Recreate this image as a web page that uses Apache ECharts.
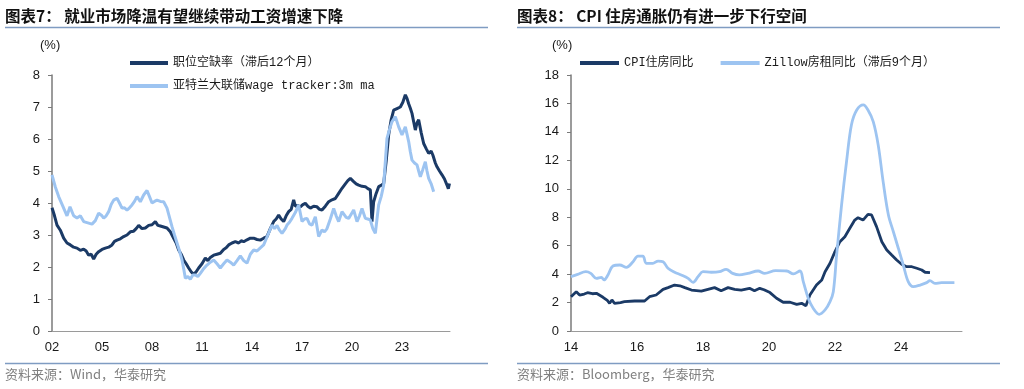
<!DOCTYPE html>
<html><head><meta charset="utf-8">
<script src="https://cdn.jsdelivr.net/npm/echarts@6/dist/echarts.min.js"></script>
<style>html,body{margin:0;padding:0;background:#fff}#c{width:1024px;height:389px}</style>
</head><body><div id="c"></div>
<script>
// ---- Left chart data ----
const jobX = [2002.0,2002.15,2002.3,2002.5,2002.7,2002.9,2003.1,2003.3,2003.5,2003.7,2003.9,2004.05,2004.2,2004.35,2004.5,2004.65,2004.8,2005.0,2005.2,2005.4,2005.6,2005.75,2005.9,2006.1,2006.3,2006.5,2006.7,2006.9,2007.05,2007.2,2007.4,2007.6,2007.8,2008.0,2008.2,2008.35,2008.5,2008.7,2008.9,2009.1,2009.3,2009.45,2009.6,2009.75,2009.9,2010.05,2010.2,2010.35,2010.5,2010.65,2010.8,2011.0,2011.2,2011.35,2011.5,2011.7,2011.9,2012.1,2012.3,2012.45,2012.6,2012.8,2013.0,2013.2,2013.35,2013.5,2013.7,2013.9,2014.1,2014.3,2014.5,2014.7,2014.9,2015.1,2015.3,2015.45,2015.6,2015.75,2015.9,2016.05,2016.2,2016.35,2016.5,2016.6,2016.75,2016.9,2017.05,2017.2,2017.35,2017.5,2017.7,2017.9,2018.05,2018.2,2018.4,2018.6,2018.8,2019.0,2019.2,2019.4,2019.6,2019.75,2019.9,2020.1,2020.25,2020.4,2020.6,2020.8,2020.95,2021.1,2021.2,2021.3,2021.45,2021.6,2021.75,2021.9,2022.05,2022.2,2022.35,2022.5,2022.7,2022.9,2023.05,2023.2,2023.3,2023.4,2023.5,2023.6,2023.7,2023.8,2023.9,2024.0,2024.15,2024.3,2024.45,2024.6,2024.75,2024.85,2025.0,2025.1,2025.25,2025.4,2025.55,2025.7,2025.78,2025.85];
const jobY = [3.85,3.6,3.31,3.15,2.9,2.75,2.69,2.62,2.59,2.52,2.56,2.5,2.37,2.4,2.25,2.4,2.48,2.55,2.59,2.62,2.69,2.8,2.84,2.88,2.95,3.0,3.1,3.12,3.2,3.3,3.2,3.22,3.3,3.32,3.42,3.3,3.28,3.25,3.22,3.1,2.9,2.75,2.53,2.4,2.22,2.1,1.97,1.85,1.78,1.85,1.97,2.1,2.28,2.2,2.3,2.37,2.4,2.43,2.55,2.6,2.69,2.75,2.79,2.75,2.82,2.79,2.85,2.9,2.9,2.86,2.84,2.9,2.95,3.2,3.42,3.5,3.62,3.5,3.42,3.6,3.73,3.8,4.1,3.9,3.92,3.88,3.95,3.99,3.9,3.84,3.9,3.88,3.8,3.78,3.9,4.04,4.1,4.14,4.3,4.46,4.6,4.7,4.77,4.67,4.6,4.56,4.52,4.51,4.45,4.41,3.42,4.04,4.3,4.51,4.55,4.61,5.3,6.13,6.6,6.9,6.95,7.0,7.15,7.38,7.27,7.1,6.96,6.8,6.54,6.28,6.5,6.6,6.2,5.86,5.7,5.55,5.62,5.5,5.25,5.13,5.0,4.88,4.75,4.56,4.45,4.61];
const wageX = [2002.0,2002.2,2002.4,2002.7,2002.9,2003.08,2003.3,2003.5,2003.7,2003.9,2004.15,2004.4,2004.6,2004.8,2005.0,2005.1,2005.25,2005.4,2005.55,2005.7,2005.9,2006.05,2006.2,2006.35,2006.5,2006.65,2006.8,2006.95,2007.1,2007.3,2007.5,2007.7,2007.85,2008.0,2008.15,2008.3,2008.5,2008.7,2008.9,2009.05,2009.2,2009.35,2009.5,2009.65,2009.8,2009.9,2010.0,2010.15,2010.3,2010.45,2010.6,2010.75,2010.9,2011.1,2011.3,2011.5,2011.7,2011.9,2012.1,2012.3,2012.5,2012.7,2012.9,2013.1,2013.3,2013.5,2013.7,2013.9,2014.1,2014.3,2014.5,2014.7,2014.95,2015.2,2015.35,2015.5,2015.65,2015.8,2016.0,2016.1,2016.25,2016.4,2016.6,2016.8,2017.0,2017.15,2017.3,2017.45,2017.6,2017.8,2018.0,2018.1,2018.2,2018.35,2018.5,2018.7,2018.9,2019.05,2019.2,2019.4,2019.5,2019.65,2019.8,2019.95,2020.1,2020.3,2020.45,2020.6,2020.8,2020.95,2021.1,2021.25,2021.4,2021.5,2021.6,2021.75,2021.9,2022.1,2022.25,2022.4,2022.6,2022.8,2023.0,2023.2,2023.3,2023.4,2023.5,2023.6,2023.75,2023.9,2024.0,2024.1,2024.25,2024.4,2024.5,2024.6,2024.75,2024.9];
const wageY = [4.88,4.5,4.2,3.84,3.6,3.88,3.6,3.53,3.6,3.42,3.38,3.34,3.45,3.68,3.6,3.53,3.6,3.73,3.95,4.09,4.15,4.0,3.84,3.85,3.78,3.85,3.94,4.05,4.2,4.04,4.25,4.39,4.2,4.0,4.05,4.09,4.05,4.04,3.84,3.55,3.26,3.0,2.75,2.5,2.22,1.95,1.65,1.7,1.62,1.75,1.75,1.7,1.8,1.95,2.06,2.15,2.22,2.1,1.97,2.1,2.22,2.15,2.06,2.2,2.35,2.2,2.12,2.4,2.53,2.5,2.6,2.69,3.0,3.31,3.2,3.3,3.15,3.05,3.2,3.31,3.4,3.52,3.7,3.94,3.42,3.5,3.52,3.35,3.31,3.57,2.95,3.0,3.16,3.1,3.2,3.5,3.83,3.6,3.42,3.73,3.73,3.55,3.52,3.65,3.78,3.42,3.6,3.83,3.52,3.5,3.47,3.2,3.05,3.5,3.94,4.2,4.56,6.02,6.3,6.54,6.7,6.38,6.13,6.38,6.15,5.92,5.6,5.34,5.25,5.19,5.0,4.82,5.05,5.29,5.0,4.77,4.6,4.35];
// ---- Right chart data ----
const cpiX = [2014.0,2014.16,2014.26,2014.4,2014.5,2014.65,2014.77,2014.97,2015.1,2015.17,2015.24,2015.32,2015.5,2015.62,2015.93,2016.23,2016.38,2016.58,2016.79,2016.94,2017.14,2017.3,2017.45,2017.65,2017.95,2018.15,2018.35,2018.55,2018.76,2018.96,2019.16,2019.41,2019.56,2019.72,2019.85,2020.03,2020.23,2020.43,2020.64,2020.84,2020.99,2021.12,2021.24,2021.44,2021.6,2021.7,2021.85,2022.0,2022.15,2022.3,2022.45,2022.6,2022.7,2022.85,2023.0,2023.11,2023.26,2023.42,2023.57,2023.72,2023.87,2024.02,2024.17,2024.33,2024.48,2024.63,2024.73,2024.88];
const cpiY = [2.41,2.76,2.53,2.6,2.69,2.62,2.65,2.37,2.15,1.95,2.18,1.95,2.0,2.06,2.11,2.11,2.41,2.53,2.93,3.05,3.23,3.18,3.05,2.88,2.81,2.93,3.05,2.83,3.05,2.93,2.88,3.0,2.83,3.0,2.9,2.7,2.3,2.02,2.02,1.87,1.95,1.78,2.53,3.23,3.59,4.17,4.76,5.58,6.28,6.63,7.22,7.8,7.97,7.8,8.2,8.16,7.34,6.28,5.7,5.34,4.99,4.69,4.52,4.52,4.41,4.29,4.13,4.1];
const zillowX = [2014.0,2014.2,2014.45,2014.6,2014.77,2014.92,2015.0,2015.12,2015.27,2015.48,2015.68,2015.88,2016.03,2016.18,2016.28,2016.48,2016.64,2016.79,2016.94,2017.14,2017.34,2017.55,2017.7,2017.85,2018.0,2018.25,2018.5,2018.7,2018.9,2019.1,2019.36,2019.67,2019.87,2020.2,2020.54,2020.74,2020.94,2021.04,2021.19,2021.34,2021.52,2021.7,2021.85,2021.95,2022.05,2022.2,2022.35,2022.5,2022.66,2022.86,2023.0,2023.16,2023.31,2023.46,2023.62,2023.77,2023.92,2024.07,2024.22,2024.37,2024.58,2024.78,2024.88,2025.03,2025.23,2025.43,2025.62];
const zillowY = [3.82,3.98,4.17,4.05,3.7,3.77,3.59,3.94,4.57,4.64,4.48,4.87,5.27,5.27,4.76,4.76,4.92,4.87,4.41,4.13,3.94,3.7,3.42,3.82,4.17,4.13,4.17,4.34,4.05,3.94,4.05,4.22,4.05,4.24,4.22,4.01,4.22,3.47,2.3,1.6,1.17,1.48,2.06,2.76,5.34,8.86,11.9,14.5,15.54,15.9,15.54,14.72,13.08,10.5,8.16,6.98,5.82,4.64,3.47,3.12,3.23,3.4,3.54,3.35,3.4,3.4,3.4];
const leftYTicks = {min:0, max:8, interval:1};
const rightYTicks = {min:0, max:18, interval:2};
const leftXTicks = {min:2002, max:2025.88, interval:3};
const rightXTicks = {min:2014, max:2025.85, interval:2};
const names = ['职位空缺率（滞后12个月）','亚特兰大联储wage tracker:3m ma','CPI住房同比','Zillow房租同比（滞后9个月）'];

const DARK = '#1b3a66', LIGHT = '#9dc4f1';
const pair = (xs, ys) => xs.map((x, i) => [x, ys[i]]);
const axisFont = {fontFamily:'Liberation Sans, Arial, sans-serif', fontSize:13, color:'#1a1a1a'};
const yrFmt = v => (Math.abs(v - Math.round(v)) < 1e-6) ? String(Math.round(v) % 100).padStart(2,'0') : '';

function xAxis(gi, t){
  return {type:'value', gridIndex:gi, min:t.min, max:t.max, interval:t.interval,
    axisLine:{show:true, lineStyle:{color:'#9a9a9a', width:1}}, axisTick:{show:false},
    splitLine:{show:false}, axisLabel:Object.assign({margin:10, formatter:yrFmt, showMaxLabel:false}, axisFont)};
}
function yAxis(gi, t){
  return {type:'value', gridIndex:gi, min:t.min, max:t.max, interval:t.interval,
    axisLine:{show:true, lineStyle:{color:'#7a7a7a', width:1.5}},
    axisTick:{show:true, length:4, lineStyle:{color:'#7a7a7a'}},
    splitLine:{show:false}, axisLabel:Object.assign({margin:12}, axisFont)};
}
const legendText = {fontFamily:'Liberation Mono, Noto Sans CJK SC, monospace', fontSize:12, color:'#1a1a1a'};
function line(name, gi, data, color, w, smooth){
  return {name, type:'line', xAxisIndex:gi, yAxisIndex:gi, data, showSymbol:false, symbol:'none',
    smooth: smooth || false, lineStyle:{color, width:w}, itemStyle:{color}, animation:false};
}
const titleStyle = {fontFamily:'Noto Sans CJK SC, sans-serif', fontSize:15.5, fontWeight:'bold', fill:'#111'};
const srcStyle = {fontFamily:'Noto Sans CJK SC, Liberation Sans, sans-serif', fontSize:13, fill:'#808080'};
const pctStyle = {fontFamily:'Liberation Sans, Arial, sans-serif', fontSize:13, fill:'#1a1a1a'};
const ruleColor = '#7f9cc2';

const option = {
  animation:false,
  grid:[{left:52, top:75, width:398, height:256},{left:571, top:75, width:391, height:256}],
  xAxis:[xAxis(0,leftXTicks), xAxis(1,rightXTicks)],
  yAxis:[yAxis(0,leftYTicks), yAxis(1,rightYTicks)],
  legend:[
    {data:[names[0],names[1]], orient:'vertical', left:125, top:52, itemWidth:38, itemHeight:4, itemGap:11, icon:'rect', textStyle:legendText, selectedMode:false},
    {data:[names[2],names[3]], orient:'horizontal', left:575, top:52, itemWidth:39, itemHeight:4, itemGap:27, icon:'rect', textStyle:legendText, selectedMode:false}
  ],
  series:[
    line(names[0],0,pair(jobX,jobY),DARK,3),
    line(names[1],0,pair(wageX,wageY),LIGHT,3),
    line(names[2],1,pair(cpiX,cpiY),DARK,2.8),
    line(names[3],1,pair(zillowX,zillowY),LIGHT,2.8,0.35)
  ],
  graphic:[
    {type:'text', left:5, top:8, style:Object.assign({text:'图表7： 就业市场降温有望继续带动工资增速下降'}, titleStyle)},
    {type:'text', left:517, top:8, style:Object.assign({text:'图表8： CPI 住房通胀仍有进一步下行空间'}, titleStyle)},
    {type:'line', shape:{x1:5,y1:27.5,x2:488,y2:27.5}, style:{stroke:ruleColor, lineWidth:1.5}},
    {type:'line', shape:{x1:517,y1:27.5,x2:1000,y2:27.5}, style:{stroke:ruleColor, lineWidth:1.5}},
    {type:'line', shape:{x1:5,y1:363.5,x2:488,y2:363.5}, style:{stroke:ruleColor, lineWidth:1.5}},
    {type:'line', shape:{x1:517,y1:363.5,x2:1000,y2:363.5}, style:{stroke:ruleColor, lineWidth:1.5}},
    {type:'text', left:5, top:368, style:Object.assign({text:'资料来源：Wind，华泰研究'}, srcStyle)},
    {type:'text', left:517, top:368, style:Object.assign({text:'资料来源：Bloomberg，华泰研究'}, srcStyle)},
    {type:'text', left:40, top:39, style:Object.assign({text:'(%)'}, pctStyle)},
    {type:'text', left:552, top:39, style:Object.assign({text:'(%)'}, pctStyle)}
  ]
};
const chart = echarts.init(document.getElementById('c'), null, {renderer:'canvas'});
chart.setOption(option);
</script></body></html>
